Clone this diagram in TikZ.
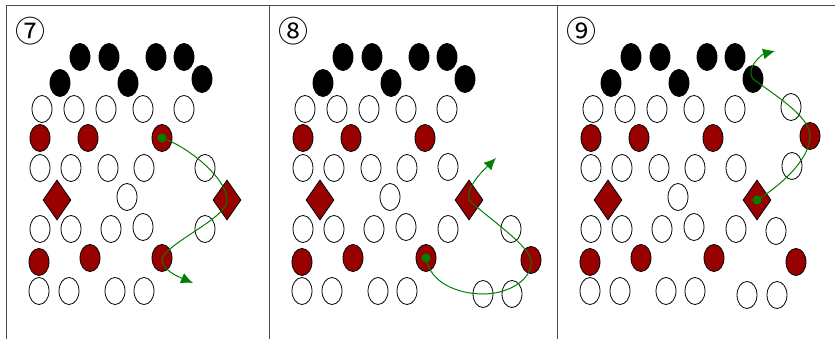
\documentclass[tikz,border=0pt]{standalone}
\usepackage{fontspec}
\usepackage{tikz}
\newfontfamily\symfont{Noto Sans CJK JP}
\usetikzlibrary{arrows.meta}
\usetikzlibrary{shapes.geometric}
\definecolor{mred}{rgb}{0.6, 0, 0}
\definecolor{mgreen}{rgb}{0, 0.5, 0}
\definecolor{mgray}{rgb}{0.3, 0.3, 0.3}

\begin{document}
\begin{tikzpicture}[x=1pt, y=-1pt,
    bead/.style={ellipse, draw=black, line width=0.8pt, inner sep=0pt, minimum width=20pt, minimum height=27pt},
    hole/.style={bead, fill=white},
    stone/.style={bead, fill=black},
    ruby/.style={bead, fill=mred},
    gem/.style={diamond, draw=black, line width=0.8pt, fill=mred, inner sep=0pt, minimum width=28pt, minimum height=40pt},
    trail/.style={-{Latex[length=12pt, width=11pt]}, mgreen, line width=1pt},
    panelline/.style={mgray, line width=1pt}]
  \useasboundingbox (0,0) rectangle (835,339);
  % frames
  \draw[panelline] (6,339) -- (6,6) -- (835,6);
  \draw[panelline] (269,6) -- (269,339);
  \draw[panelline] (557,6) -- (557,339);
  % what the three panels share
  \foreach \s/\n/\d in {0/1/⑦, 263/2/⑧, 551/3/⑨} {
    \begin{scope}[shift={(\s,0)}]
      \node[font=\symfont\fontsize{30}{30}\selectfont] (p\n-num) at (30,31) {\d};
      \foreach \x/\y [count=\i] in {80/57, 109/57, 156/57, 184/57, 60/83, 128/83, 202/79}
        \node[stone] (p\n-s\i) at (\x,\y) {};
      \foreach \x/\y [count=\i] in {42/109, 74/109, 106/109, 143/109, 184/109,
          40/168, 71/168, 108/168, 144/168, 127/197,
          40/229, 71/229, 111/229, 143/227, 39/291, 69/291, 115/291, 144/291}
        \node[hole] (p\n-h\i) at (\x,\y) {};
      \foreach \x/\y [count=\i] in {40/138, 88/138, 162/138, 39/262, 90/258}
        \node[ruby] (p\n-r\i) at (\x,\y) {};
      \node[gem] (p\n-g1) at (57,200) {};
    \end{scope}
  }
  % panel 7
  \node[hole] (p1-h19) at (205,168) {};
  \node[hole] (p1-h20) at (205,229) {};
  \node[ruby] (p1-r6) at (162,258) {};
  \node[gem] (p1-g2) at (227,200) {};
  % panel 8
  \node[hole] (p2-h19) at (448,167) {};
  \node[hole] (p2-h20) at (448,229) {};
  \node[hole] (p2-h21) at (511,229) {};
  \node[hole] (p2-h22) at (483,294) {};
  \node[hole] (p2-h23) at (512,294) {};
  \node[ruby] (p2-r6) at (426,258) {};
  \node[ruby] (p2-r7) at (531,260) {};
  \node[gem] (p2-g2) at (469,200) {};
  % panel 9
  \node[hole] (p3-h19) at (791,107) {};
  \node[hole] (p3-h20) at (736,168) {};
  \node[hole] (p3-h21) at (792,166) {};
  \node[hole] (p3-h22) at (736,229) {};
  \node[hole] (p3-h23) at (776,231) {};
  \node[hole] (p3-h24) at (747,295) {};
  \node[hole] (p3-h25) at (777,295) {};
  \node[ruby] (p3-r6) at (810,136) {};
  \node[ruby] (p3-r7) at (714,258) {};
  \node[ruby] (p3-r8) at (796,262) {};
  \node[gem] (p3-g2) at (757,200) {};
  % moves
  \coordinate (p1-end) at (193,283);
  \coordinate (p2-end) at (496,158);
  \coordinate (p3-end) at (775,51);
  \draw[trail] (p1-r3.center) .. controls +(25,8) and +(0,-22) .. (p1-g2.center)
    .. controls +(0,18) and +(10,-18) .. (p1-r6.center)
    .. controls +(-1,12) and +(-14,-6) .. (p1-end);
  \draw[trail] (p2-r6.center) .. controls +(4,25) and +(-25,0) .. (p2-h22.center)
    .. controls +(25,0) and +(2,20) .. (p2-r7.center)
    .. controls +(-2,-15) and +(15,15) .. (p2-g2.center)
    .. controls +(-3,-15) and +(-10,10) .. (p2-end);
  \draw[trail] (p3-g2.center) .. controls +(20,-12) and +(0,25) .. (p3-r6.center)
    .. controls +(0,-20) and +(20,15) .. (p3-s7.center)
    .. controls +(-8,-12) and +(-12,3) .. (p3-end);
  \fill[mgreen] (p1-r3.center) circle[radius=4.5pt];
  \fill[mgreen] (p2-r6.center) circle[radius=4.5pt];
  \fill[mgreen] (p3-g2.center) circle[radius=4.5pt];
\end{tikzpicture}
\end{document}
